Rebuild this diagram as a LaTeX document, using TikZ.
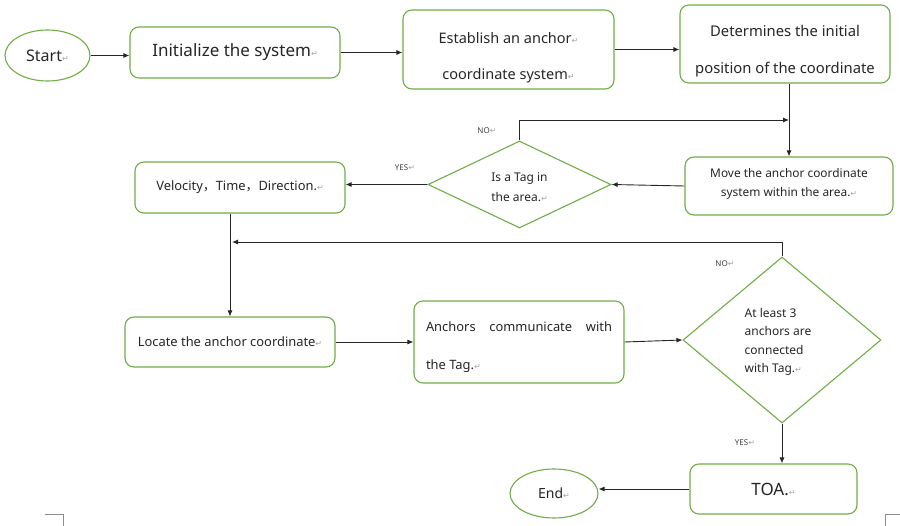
\documentclass[tikz,border=0pt]{standalone}
\usepackage{fontspec}
\setmainfont{Noto Sans}
\newfontfamily\dvfont{DejaVu Sans}
\newfontfamily\cjkfont{Noto Sans CJK SC}
\usetikzlibrary{shapes.geometric,arrows.meta}
\definecolor{boxgreen}{RGB}{112,173,71}
\newcommand\retmark{{\dvfont\color{black!35}\fontsize{8}{8}\selectfont ↵}}
\newcommand\fwc{{\cjkfont ，}}
\tikzset{
  x=1pt,y=-1pt,
  box/.style={draw=boxgreen, line width=1.1pt, rounded corners=9pt, inner sep=0pt, align=center, text=black!85},
  oval/.style={draw=boxgreen, line width=1.1pt, ellipse, inner sep=0pt, text=black!85},
  dia/.style={draw=boxgreen, line width=1.1pt, diamond, inner sep=0pt, text=black!85},
  txt/.style={inner sep=0pt, align=center, text=black!85},
  arr/.style={draw=black!85, line width=0.9pt, -{Latex[length=6pt,width=5pt]}},
  lbl/.style={inner sep=0pt, text=black!75, font=\fontsize{8}{9}\selectfont},
  crn/.style={draw=black!45, line width=0.7pt}
}
\begin{document}
\begin{tikzpicture}
\useasboundingbox (0,0) rectangle (900,526);
% shapes
\node[oval, minimum width=85, minimum height=51, font=\fontsize{16}{18}\selectfont] (start) at (47.5,55.5) {Start\retmark};
\node[box, minimum width=210, minimum height=51, font=\fontsize{17}{20}\selectfont] (init) at (235,52.5) {Initialize the system\retmark};
\node[box, minimum width=211, minimum height=79] (est) at (508.5,49.5) {};
\node[box, minimum width=210, minimum height=78] (det) at (785,44) {};
\node[box, minimum width=208, minimum height=58] (move) at (789,186) {};
\node[dia, minimum width=183, minimum height=87] (tag) at (519.5,184.5) {};
\node[box, minimum width=210, minimum height=51, font=\fontsize{12.9}{15}\selectfont] (vel) at (240,187.5) {Velocity\fwc Time\fwc Direction.\retmark};
\node[box, minimum width=210, minimum height=50, font=\fontsize{12.9}{15}\selectfont] (loc) at (230,342) {Locate the anchor coordinate\retmark};
\node[box, minimum width=210, minimum height=82] (anc) at (519,342) {};
\node[dia, minimum width=198, minimum height=166] (big) at (782,340) {};
\node[box, minimum width=167, minimum height=50, font=\fontsize{17}{20}\selectfont] (toa) at (773.5,489) {TOA.\retmark};
\node[oval, minimum width=88, minimum height=49, font=\fontsize{14}{16}\selectfont] (end) at (554,493.5) {End\retmark};
% texts of the shapes
\node[txt, font=\fontsize{14.5}{36}\selectfont] (estT) at ([yshift=-8pt]est.center) {Establish an anchor\retmark\\ coordinate system\retmark};
\node[txt, font=\fontsize{14.8}{37}\selectfont] (detT) at ([yshift=-7pt]det.center) {Determines the initial\\ position of the coordinate};
\node[txt, font=\fontsize{11.9}{19}\selectfont] (moveT) at ([yshift=2pt]move.center) {Move the anchor coordinate\\ system within the area.\retmark};
\node[txt, font=\fontsize{12}{20}\selectfont] (tagT) at ([yshift=-3pt]tag.center) {Is a Tag in\\ the area.\retmark};
\node[txt, font=\fontsize{12.9}{38}\selectfont, align=left] (ancT) at ([yshift=-5pt]anc.center) {\makebox[186pt][s]{Anchors\hfill communicate\hfill with}\\ the Tag.\retmark};
\node[txt, font=\fontsize{12}{18.5}\selectfont, align=left] (bigT) at ([xshift=-4pt,yshift=-2pt]big.center) {At least 3\\ anchors are\\ connected\\ with Tag.\retmark};
% labels
\node[lbl] (yes1) at (405,168) {YES\retmark};
\node[lbl] (no1) at (487,131) {NO\retmark};
\node[lbl] (no2) at (725,264) {NO\retmark};
\node[lbl] (yes2) at (745,443) {YES\retmark};
% free ends
\coordinate (cno) at (789,120);
\coordinate (cfb) at (232,242);
% connectors
\draw[arr] (start.east) -- (start.east -| init.west);
\draw[arr] (init.east) -- (init.east -| est.west);
\draw[arr] (est.east) -- (est.east -| det.west);
\draw[arr] (move.north |- det.south) -- (move.north);
\draw[arr] (tag.north) |- (cno);
\draw[arr] (move.west) -- (tag.east);
\draw[arr] (tag.west) -- (tag.west -| vel.east);
\draw[arr] (loc.north |- vel.south) -- (loc.north);
\draw[arr] (big.north) |- (cfb);
\draw[arr] (loc.east) -- (loc.east -| anc.west);
\draw[arr] (anc.east) -- (big.west);
\draw[arr] (big.south) -- (big.south |- toa.north);
\draw[arr] (toa.west) -- (toa.west -| end.east);
% page corner marks
\draw[crn] (45,514) -- (63,514) -- (63,526);
\draw[crn] (900,514) -- (885,514) -- (885,526);
\end{tikzpicture}
\end{document}
